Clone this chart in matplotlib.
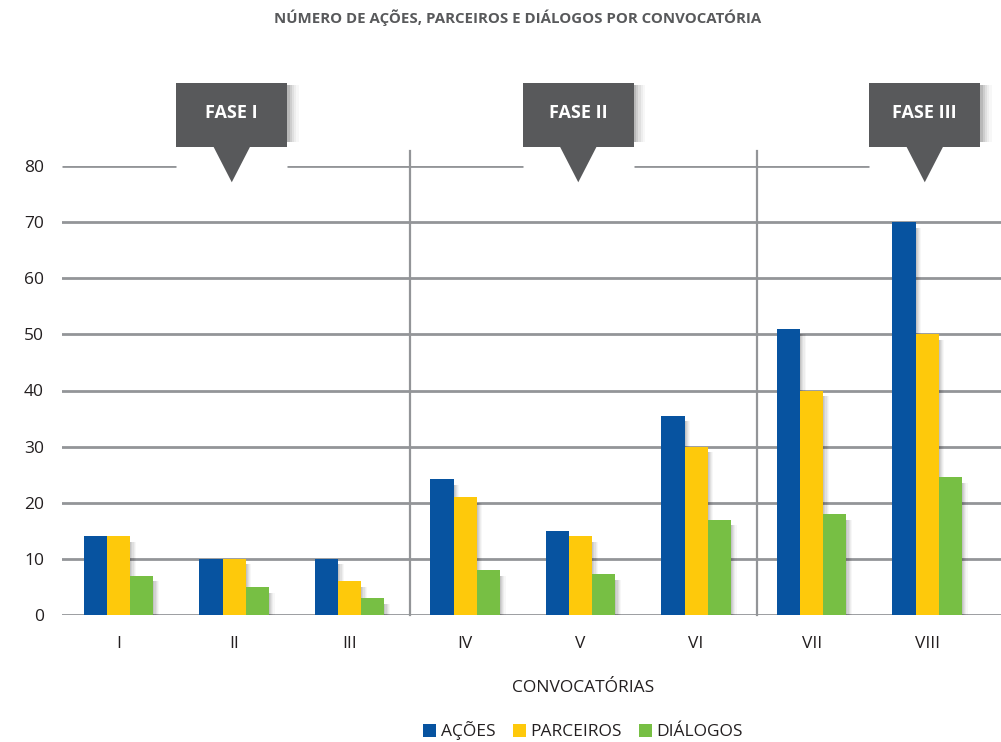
import matplotlib.pyplot as plt
from matplotlib.patches import Polygon, Rectangle
import numpy as np

plt.rcParams['font.family'] = ['Open Sans', 'DejaVu Sans']

# dados
convocatorias = ['I', 'II', 'III', 'IV', 'V', 'VI', 'VII', 'VIII']
acoes = [14, 10, 10, 24.2, 15, 35.5, 51, 70]
parceiros = [14, 10, 6, 21, 14, 30, 40, 50]
dialogos = [7, 5, 3, 8, 7.3, 17, 18, 24.5]
series = ['AÇÕES', 'PARCEIROS', 'DIÁLOGOS']
cores = ['#0753a0', '#fec90b', '#77bf44']
fases = ['FASE I', 'FASE II', 'FASE III']
fase_centro = [1, 4, 7]      # convocatória sob cada caixa
separadores = [2.52, 5.53]
yticks = [0, 10, 20, 30, 40, 50, 60, 70, 80]

fig = plt.figure(figsize=(10.01, 7.42), dpi=100)
ax = fig.add_axes([62/1001, 127/742, 939/1001, 449/742])
x = np.arange(len(convocatorias))
ax.set_xlim(-0.49, 7.64)
ax.set_ylim(0, 80)
for s in ax.spines.values():
    s.set_visible(False)

grid = '#939598'
largura = 0.2

# grade horizontal (a linha de 80 é interrompida pelas caixas)
for v in yticks[:-1]:
    ax.axhline(v, color=grid, lw=2, zorder=1)
meia = 0.48
bordas = [-0.49] + sum([[c - meia - 0.02, c + meia - 0.02] for c in fase_centro], [])
for i in range(0, len(bordas) - 1, 2):
    ax.plot([bordas[i], bordas[i + 1]], [80, 80], color=grid, lw=2, zorder=1,
            solid_capstyle='butt')

for sx in separadores:
    ax.plot([sx, sx], [0, 82.7], color=grid, lw=1.6, zorder=1, clip_on=False)

# barras com sombra leve
for k, (vals, cor, nome) in enumerate(zip([acoes, parceiros, dialogos], cores, series)):
    pos = x + (k - 1) * largura
    for d, a in [(0.05, 0.03), (0.04, 0.04), (0.03, 0.05), (0.02, 0.06), (0.01, 0.07)]:
        ax.bar(pos + d, np.array(vals) - 1.0, largura, color='black', alpha=a,
               zorder=2, linewidth=0)
    ax.bar(pos, vals, largura, color=cor, label=nome, zorder=3, linewidth=0)

# caixas das fases
caixa_base, caixa_topo, ponta = 83.4, 94.8, 77.1
for nome, c in zip(fases, fase_centro):
    c = c - 0.02
    for d, a in [(0.1, 0.03), (0.08, 0.04), (0.06, 0.06), (0.04, 0.08), (0.02, 0.1)]:
        ax.add_patch(Rectangle((c - meia + d, caixa_base + 0.8), 2 * meia, caixa_topo - caixa_base - 1.2,
                               color='black', alpha=a, lw=0, clip_on=False, zorder=4))
    ax.add_patch(Rectangle((c - meia, caixa_base), 2 * meia, caixa_topo - caixa_base,
                           color='#58595b', lw=0, clip_on=False, zorder=5))
    ax.add_patch(Polygon([[c - 0.16, caixa_base + 0.1], [c + 0.16, caixa_base + 0.1], [c, ponta]],
                         closed=True, color='#58595b', lw=0, clip_on=False, zorder=5))
    ax.text(c, (caixa_base + caixa_topo) / 2 + 0.3, nome, color='white', fontsize=13,
            fontweight='bold', ha='center', va='center', zorder=6)

ax.set_xticks(x)
ax.set_xticklabels(convocatorias)
ax.set_yticks(yticks)
ax.tick_params(axis='both', length=0, labelsize=12.5, colors='#231f20')
ax.tick_params(axis='x', pad=15)
ax.tick_params(axis='y', pad=13)

fig.text(518/1001, 1 - 18/742, 'NÚMERO DE AÇÕES, PARCEIROS E DIÁLOGOS POR CONVOCATÓRIA',
         ha='center', va='center', fontsize=10.8, fontweight='bold', color='#58595b')
fig.text(583/1001, 1 - 688/742, 'CONVOCATÓRIAS', ha='center', va='center',
         fontsize=12.5, color='#231f20')

fig.legend(loc='center', bbox_to_anchor=(583/1001, 1 - 731/742), ncol=3, frameon=False,
           fontsize=12.5, handlelength=0.75, handleheight=0.75, handletextpad=0.25,
           columnspacing=1.0, labelcolor='#231f20')

fig.savefig('out.png', dpi=100)
